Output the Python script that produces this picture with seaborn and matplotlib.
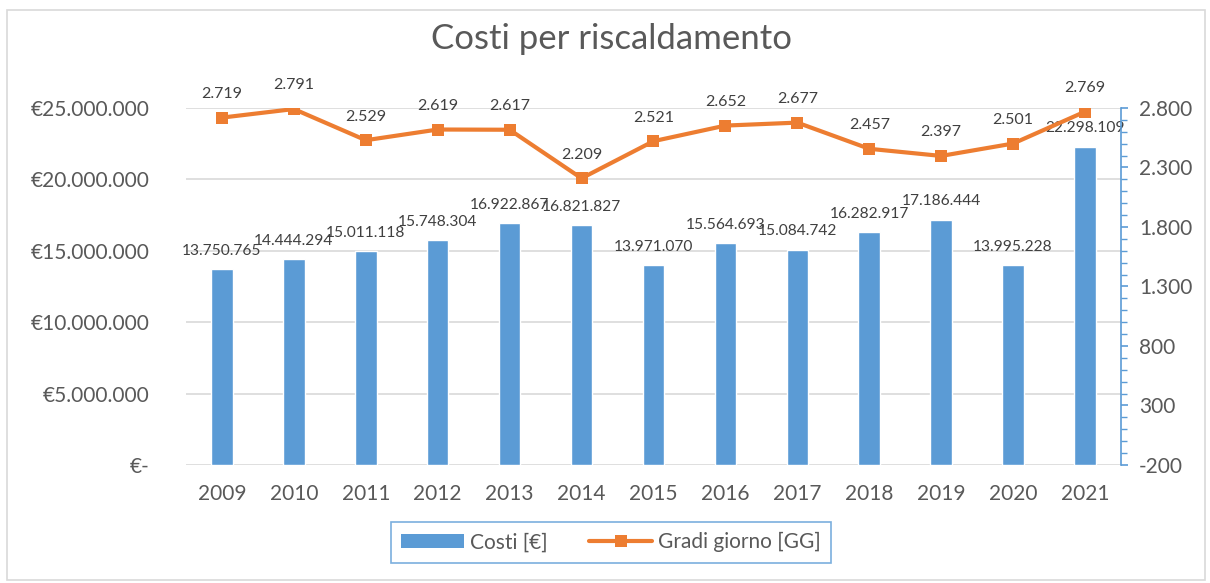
import numpy as np
import pandas as pd
import seaborn as sns
import matplotlib.pyplot as plt
from matplotlib.patches import Rectangle, Patch
from matplotlib.lines import Line2D
from matplotlib.ticker import FuncFormatter, MultipleLocator

# data
anni = ["2009", "2010", "2011", "2012", "2013", "2014", "2015",
        "2016", "2017", "2018", "2019", "2020", "2021"]
costi = [13750765, 14444294, 15011118, 15748304, 16922867, 16821827, 13971070,
         15564693, 15084742, 16282917, 17186444, 13995228, 22298109]
gradi_giorno = [2719, 2791, 2529, 2619, 2617, 2209, 2521,
                2652, 2677, 2457, 2397, 2501, 2769]
gg_ticks = [-200, 300, 800, 1300, 1800, 2300, 2800]

BLUE = "#5B9BD5"
ORANGE = "#ED7D31"
GREY = "#595959"


def it_num(v):
    return f"{v:,.0f}".replace(",", ".")


def euro_fmt(v, pos):
    if v == 0:
        return "€-"
    return "€" + it_num(v)


sns.set_style("white")
plt.rcParams["font.family"] = ["Lato", "DejaVu Sans"]

df = pd.DataFrame({"Anno": anni, "Costi": costi, "GG": gradi_giorno})

fig = plt.figure(figsize=(12.1, 5.83), dpi=100)
ax = fig.add_axes([0.1537, 0.2024, 0.7727, 0.6124])

sns.barplot(data=df, x="Anno", y="Costi", ax=ax, color=BLUE, width=0.3,
            saturation=1)
ax.set_ylim(0, 25000000)
ax.yaxis.set_major_locator(MultipleLocator(5000000))
ax.yaxis.set_major_formatter(FuncFormatter(euro_fmt))
ax.grid(axis="y", color="#D9D9D9", linewidth=1.2)
ax.set_axisbelow(True)
for s in ax.spines.values():
    s.set_visible(False)
ax.tick_params(axis="both", length=0, labelsize=15, labelcolor=GREY)
ax.tick_params(axis="y", pad=26)
ax.tick_params(axis="x", pad=14)
ax.set_xlabel("")
ax.set_ylabel("")
ax.set_xlim(-0.5, len(anni) - 0.5)

# bar value labels
for i, v in enumerate(costi):
    ax.annotate(it_num(v), (i, v), xytext=(0, 8), textcoords="offset points",
                ha="center", va="bottom", fontsize=11.2, color="#404040")

ax2 = ax.twinx()
sns.lineplot(x=np.arange(len(anni)), y=gradi_giorno, ax=ax2, color=ORANGE,
             linewidth=3, marker="s", markersize=9, markeredgewidth=0)
ax2.set_ylim(-200, 2800)
ax2.set_yticks(gg_ticks)
ax2.yaxis.set_minor_locator(MultipleLocator(100))
for name, s in ax2.spines.items():
    s.set_visible(name == "right")
ax2.spines["right"].set_color(BLUE)
ax2.spines["right"].set_linewidth(1.2)
ax2.tick_params(axis="y", which="major", length=5, color=BLUE, width=1.2,
                labelsize=15, labelcolor=GREY, pad=8)
ax2.tick_params(axis="y", which="minor", length=4, color=BLUE, width=1)
ax2.yaxis.set_major_formatter(FuncFormatter(lambda v, p: it_num(v)))
ax2.set_xlim(-0.5, len(anni) - 0.5)

# line value labels
for i, v in enumerate(gradi_giorno):
    ax2.annotate(it_num(v), (i, v), xytext=(0, 12), textcoords="offset points",
                 ha="center", va="bottom", fontsize=11.5, color="#404040")

fig.suptitle("Costi per riscaldamento", x=0.505, y=0.96, fontsize=25, color=GREY)

handles = [Patch(facecolor=BLUE, edgecolor="none"),
           Line2D([], [], color=ORANGE, linewidth=3, marker="s", markersize=9,
                  markeredgewidth=0)]
leg = fig.legend(handles, ["Costi [€]", "Gradi giorno [GG]"], loc="center",
                 bbox_to_anchor=(0.505, 0.07), ncol=2, fontsize=15,
                 frameon=True, fancybox=False, edgecolor=BLUE,
                 handlelength=3.0, columnspacing=2.0, borderpad=0.5,
                 borderaxespad=0, handletextpad=0.3)
leg.get_frame().set_linewidth(1.2)
for t in leg.get_texts():
    t.set_color(GREY)

fig.patches.append(Rectangle((0.006, 0.005), 0.99, 0.978, transform=fig.transFigure,
                             fill=False, edgecolor="#D9D9D9", linewidth=1.2))

fig.savefig("out.png", dpi=100)
